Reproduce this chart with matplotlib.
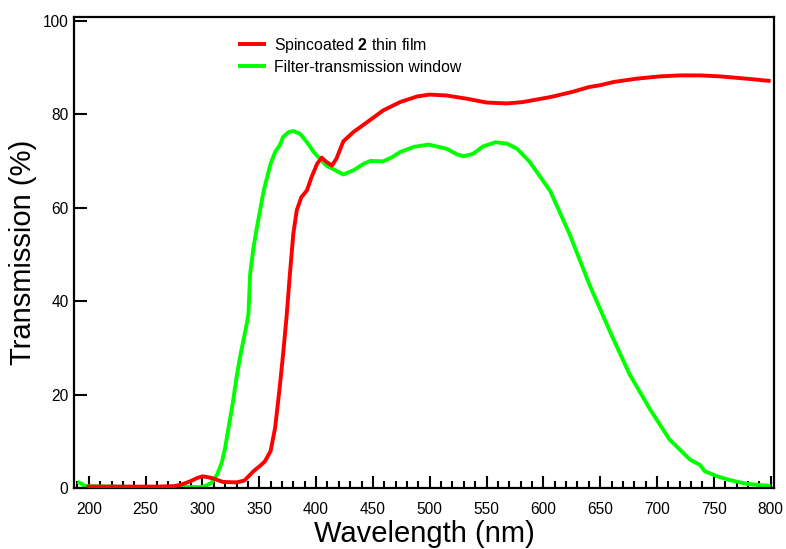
import matplotlib.pyplot as plt
from matplotlib.ticker import MultipleLocator

plt.rcParams['font.family'] = ['Liberation Sans', 'DejaVu Sans']
plt.rcParams['mathtext.fontset'] = 'custom'
plt.rcParams['mathtext.rm'] = 'Liberation Sans'
plt.rcParams['mathtext.bf'] = 'Liberation Sans:bold'

# spincoated film (red)
film_nm = [198, 220, 240, 260, 275, 281, 289, 295, 300, 305, 310, 318, 330, 337, 345,
           351, 355, 360, 364, 368, 371, 374, 377, 380, 383, 387, 392, 396, 401, 405,
           409, 414, 418, 424, 433, 445, 459, 474, 489, 500, 515, 533, 550, 568, 582,
           607, 626, 640, 650, 662, 682, 703, 720, 738, 755, 779, 800]
film_T = [0.3, 0.3, 0.3, 0.3, 0.4, 0.7, 1.4, 2.1, 2.5, 2.3, 2.0, 1.3, 1.2, 1.6, 3.6,
          4.8, 5.7, 7.9, 12.9, 21.5, 28.6, 36.5, 45.8, 54.4, 59.4, 62.2, 63.7, 66.5, 69.4, 70.7,
          69.8, 69.0, 70.5, 74.2, 76.2, 78.3, 80.8, 82.6, 83.8, 84.2, 84.0, 83.3, 82.5, 82.3, 82.6,
          83.7, 84.8, 85.8, 86.2, 86.9, 87.6, 88.1, 88.3, 88.3, 88.1, 87.6, 87.1]

# filter window (green)
filt_nm = [190, 193, 197, 250, 299, 302, 308, 313, 317, 320, 324, 327, 330, 333, 339,
           340.5, 342, 345, 348, 354, 360, 364, 368, 371, 376, 380, 386, 392, 398, 404,
           409, 417, 424, 433, 442, 448, 459, 467, 474, 486, 499, 515, 524, 530, 538,
           547, 558, 568, 577, 588, 606, 623, 641, 659, 676, 694, 711, 729, 738, 742,
           753, 764, 779, 800]
filt_T = [1.3, 1.0, 0.4, 0.2, 0.2, 0.4, 1.1, 2.9, 5.4, 8.6, 14.3, 18.6, 23.6, 27.9, 35.1,
          37.2, 45.8, 51.5, 55.8, 63.7, 69.4, 71.9, 73.3, 75.1, 76.2, 76.4, 75.8, 74.0, 71.9, 70.3,
          69.0, 68.0, 67.1, 68.0, 69.4, 70.0, 69.9, 70.8, 71.9, 73.0, 73.5, 72.6, 71.4, 71.0, 71.5,
          73.1, 74.0, 73.7, 72.6, 69.8, 63.6, 54.4, 43.3, 33.3, 24.3, 16.8, 10.4, 6.1, 4.9, 3.6,
          2.5, 1.7, 0.9, 0.4]

fig = plt.figure(figsize=(7.86, 5.49), dpi=100)
ax = fig.add_axes([74 / 786, 1 - 488 / 549, 700 / 786, 471 / 549])

ax.plot(filt_nm, filt_T, color='#00ff00', lw=2.8, label='Filter-transmission window',
        zorder=2, solid_joinstyle='round', solid_capstyle='butt')
ax.plot(film_nm, film_T, color='#ff0000', lw=2.8, label=r'Spincoated $\mathbf{2}$ thin film',
        zorder=3, solid_joinstyle='round', solid_capstyle='butt')

ax.set_xlim(187, 803)
ax.set_ylim(0, 100.8)
ax.xaxis.set_major_locator(MultipleLocator(50))
ax.xaxis.set_minor_locator(MultipleLocator(10))
ax.yaxis.set_major_locator(MultipleLocator(20))
ax.tick_params(which='both', direction='in', width=1.5, labelsize=11.2, top=False, right=False)
ax.tick_params(which='major', length=8.5, pad=10)
ax.tick_params(which='minor', length=5)
ax.tick_params(axis='y', length=9.5, pad=4)
for s in ax.spines.values():
    s.set_linewidth(1.6)

ax.set_xlabel('Wavelength (nm)', fontsize=21, labelpad=2)
ax.set_ylabel('Transmission (%)', fontsize=21, labelpad=4)

h, l = ax.get_legend_handles_labels()
ax.legend(h[::-1], l[::-1], loc='upper left', bbox_to_anchor=(0.234, 0.96), frameon=False,
          fontsize=11.4, handlelength=1.8, handletextpad=0.5, labelspacing=0.3,
          borderpad=0, borderaxespad=0)

fig.savefig('out.png', dpi=100)
